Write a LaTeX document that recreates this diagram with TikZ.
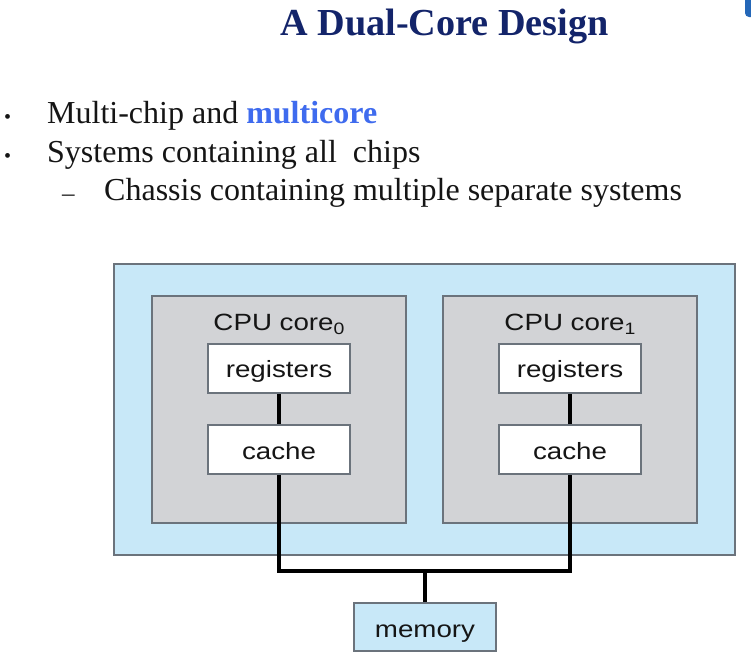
\documentclass[tikz,border=0pt]{standalone}
\usepackage{fontspec}
\usepackage{graphicx}
\setmainfont{Liberation Serif}
\newfontfamily\diagfont{Liberation Sans}
\definecolor{titleblue}{HTML}{13246A}
\definecolor{accentblue}{HTML}{3F6BEE}
\definecolor{chipfill}{HTML}{C8E8F8}
\definecolor{corefill}{HTML}{D2D3D6}
\definecolor{edgegray}{HTML}{6B737C}
\definecolor{inktext}{HTML}{151515}
\definecolor{tabblue}{HTML}{2467B8}
% labels inside the figure are set slightly widened
\newcommand{\figlabel}[1]{\scalebox{1.18}[1]{\diagfont\fontsize{23.5}{26}\selectfont #1}}
\newcommand{\lowsub}[1]{\raisebox{-4.5pt}{\fontsize{16.5}{17}\selectfont #1}}
\tikzset{
  chipbox/.style={draw=edgegray, line width=1.1pt, fill=chipfill, inner sep=0pt},
  corebox/.style={draw=edgegray, line width=1.1pt, fill=corefill, inner sep=0pt},
  unitbox/.style={draw=edgegray, line width=1.1pt, fill=white, inner sep=0pt,
    minimum width=142pt, minimum height=49pt},
  membox/.style={draw=edgegray, line width=1.1pt, fill=chipfill, inner sep=0pt,
    minimum width=142pt, minimum height=48pt},
  boxlabel/.style={anchor=base, inner sep=0pt, text=inktext},
  wire/.style={draw=black, line width=3.4pt},
  bodytext/.style={anchor=base west, inner sep=0pt, text=inktext,
    font=\fontsize{32}{38}\selectfont},
  bulletmark/.style={anchor=base west, inner sep=0pt, text=inktext,
    font=\fontsize{20}{24}\selectfont},
}
\begin{document}
\begin{tikzpicture}[x=1pt, y=-1pt]
\useasboundingbox (0,0) rectangle (751,664);

% corner tab
\begin{scope}
  \clip (0,0) rectangle (751,664);
  \fill[tabblue, rounded corners=4pt] (745,-10) rectangle (762,17);
\end{scope}

% heading
\node[anchor=base, inner sep=0pt, text=titleblue,
      font=\fontsize{38.2}{44}\selectfont\bfseries] (title) at (444.5,35) {A Dual-Core Design};

% bullet list
\node[bulletmark] (b1) at (4,123) {•};
\node[bodytext] (t1) at (47,123) {Multi-chip and \textbf{\textcolor{accentblue}{multicore}}};
\node[bulletmark] (b2) at (4,162) {•};
\node[bodytext] (t2) at (47,162) {Systems containing all\ \ chips};
\node[bulletmark, font=\fontsize{25}{28}\selectfont] (b3) at (62,201) {–};
\node[bodytext] (t3) at (104,200) {Chassis containing multiple separate systems};

% chip and its two cores
\node[chipbox, minimum width=621pt, minimum height=291pt] (chip) at (424.5,409.5) {};
\node[corebox, minimum width=254pt, minimum height=227pt] (core0) at (279,409.5) {};
\node[corebox, minimum width=254pt, minimum height=227pt] (core1) at (570,409.5) {};

\node[boxlabel] (lab0) at (279,330) {\figlabel{CPU core\lowsub{0}}};
\node[boxlabel] (lab1) at (570,330) {\figlabel{CPU core\lowsub{1}}};

% bus joining the caches to memory
\coordinate (bus) at (425,571);
\node[membox] (mem) at (425,627) {};

\node[unitbox] (reg0) at (279,368.5) {};
\node[unitbox] (cache0) at (279,449.5) {};
\node[unitbox] (reg1) at (570,368.5) {};
\node[unitbox] (cache1) at (570,449.5) {};

\draw[wire] (reg0.south) -- (cache0.north);
\draw[wire] (reg1.south) -- (cache1.north);
\draw[wire, line join=miter] (cache0.south) |- (bus) -| (cache1.south);
\draw[wire] (bus) -- (mem.north);

% redraw the unit boxes over the wire ends
\node[unitbox] at (reg0) {};
\node[unitbox] at (cache0) {};
\node[unitbox] at (reg1) {};
\node[unitbox] at (cache1) {};
\node[membox] at (mem) {};

\node[boxlabel] (reg0text) at (279,377) {\figlabel{registers}};
\node[boxlabel] (cache0text) at (279,459) {\figlabel{cache}};
\node[boxlabel] (reg1text) at (570,377) {\figlabel{registers}};
\node[boxlabel] (cache1text) at (570,459) {\figlabel{cache}};
\node[boxlabel] (memtext) at (425,637.5) {\figlabel{memory}};
\end{tikzpicture}
\end{document}
